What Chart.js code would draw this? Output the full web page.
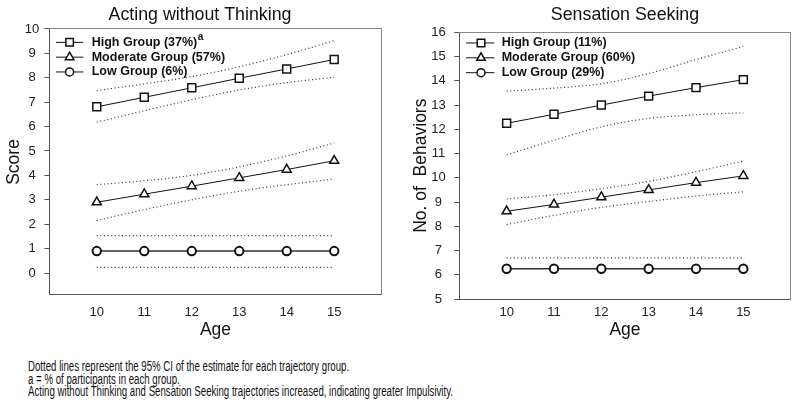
<!DOCTYPE html>
<html>
<head>
<meta charset="utf-8">
<script src="https://cdn.jsdelivr.net/npm/chart.js@4.4.1/dist/chart.umd.min.js"></script>
<style>
html,body{margin:0;padding:0;background:#fff;width:800px;height:417px;overflow:hidden;}
#wrapL{position:absolute;left:0;top:0;width:400px;height:345px;}
#wrapR{position:absolute;left:400px;top:0;width:400px;height:349px;}
#note{position:absolute;left:28px;top:360px;font-family:"Liberation Sans Narrow","Arial Narrow","Liberation Sans",Arial,sans-serif;font-size:14px;line-height:12.6px;color:#111;}
#note div{white-space:nowrap;transform-origin:0 0;width:max-content;}
</style>
</head>
<body>
<div id="wrapL"><canvas id="cL" width="400" height="345"></canvas></div>
<div id="wrapR"><canvas id="cR" width="400" height="349"></canvas></div>
<div id="note">
  <div>Dotted lines represent the 95% CI of the estimate for each trajectory group.</div>
  <div>a = % of participants in each group.</div>
  <div>Acting without Thinking and Sensation Seeking trajectories increased, indicating greater Impulsivity.</div>
</div>
<script>
// ---------- data ----------
const ages = [10, 11, 12, 13, 14, 15];
const xTickValues = [10, 11, 12, 13, 14, 15];
const awtTickValues = [0, 1, 2, 3, 4, 5, 6, 7, 8, 9, 10];
const ssTickValues = [5, 6, 7, 8, 9, 10, 11, 12, 13, 14, 15, 16];

const awtTitle = 'Acting without Thinking';
const ssTitle = 'Sensation Seeking';
const awtYTitle = 'Score';
const ssYTitle = 'No. of  Behaviors';
const xTitle = 'Age';

const awtLabels = ['High Group (37%)', 'Moderate Group (57%)', 'Low Group (6%)'];
const ssLabels = ['High Group (11%)', 'Moderate Group (60%)', 'Low Group (29%)'];

const awtHigh      = [6.81, 7.2, 7.59, 7.98, 8.36, 8.75];
const awtHighUpper = [7.47, 7.75, 8.05, 8.45, 8.95, 9.52];
const awtHighLower = [6.18, 6.65, 7.1, 7.5, 7.8, 8.02];
const awtMod       = [2.9, 3.23, 3.56, 3.9, 4.24, 4.6];
const awtModUpper  = [3.62, 3.78, 4.0, 4.35, 4.8, 5.33];
const awtModLower  = [2.15, 2.6, 3.0, 3.35, 3.62, 3.85];
const awtLow       = [0.9, 0.9, 0.9, 0.9, 0.9, 0.9];
const awtLowUpper  = [1.53, 1.53, 1.53, 1.53, 1.53, 1.53];
const awtLowLower  = [0.23, 0.23, 0.23, 0.23, 0.23, 0.23];

const ssHigh       = [12.25, 12.62, 13.0, 13.37, 13.72, 14.05];
const ssHighUpper  = [13.57, 13.7, 13.88, 14.3, 14.88, 15.42];
const ssHighLower  = [10.95, 11.55, 12.1, 12.45, 12.6, 12.68];
const ssMod        = [8.62, 8.9, 9.2, 9.5, 9.8, 10.08];
const ssModUpper   = [9.13, 9.3, 9.55, 9.85, 10.25, 10.69];
const ssModLower   = [8.07, 8.45, 8.78, 9.02, 9.25, 9.42];
const ssLow        = [6.25, 6.25, 6.25, 6.25, 6.25, 6.25];
const ssLowUpper   = [6.7, 6.7, 6.7, 6.7, 6.7, 6.7];

// ---------- helpers ----------
const FONT = '"Liberation Sans", Arial, Helvetica, sans-serif';
Chart.defaults.font.family = FONT;
Chart.defaults.color = '#222';

function pts(ys) { return ages.map((a, i) => ({ x: a, y: ys[i] })); }

function mainDs(label, ys, style, r, extra) {
  return Object.assign({
    label: label, data: pts(ys), isMain: true, order: 1,
    borderColor: '#111', borderWidth: 1, tension: 0,
    pointStyle: style, pointRadius: r, pointHoverRadius: r,
    pointBorderWidth: 1.5, pointBorderColor: '#111', pointBackgroundColor: '#fff'
  }, extra || {});
}
function ciDs(ys) {
  return {
    label: '', data: pts(ys), isMain: false, order: 2,
    borderColor: '#333', borderWidth: 1.2, borderDash: [1, 2.6],
    pointRadius: 0, pointHoverRadius: 0, cubicInterpolationMode: 'monotone'
  };
}

const insideLegend = {
  id: 'insideLegend',
  afterDatasetsDraw(chart, args, o) {
    const ctx = chart.ctx, ca = chart.chartArea;
    const items = chart.data.datasets.filter(d => d.isMain);
    ctx.save();
    items.forEach((d, i) => {
      const y = ca.top + o.top + i * o.gap;
      ctx.setLineDash([]);
      ctx.strokeStyle = '#111';
      ctx.lineWidth = 1;
      ctx.beginPath();
      ctx.moveTo(ca.left + o.lineX0, y);
      ctx.lineTo(ca.left + o.lineX1, y);
      ctx.stroke();
      ctx.fillStyle = '#fff';
      ctx.lineWidth = 1.5;
      Chart.helpers.drawPoint(ctx, { pointStyle: d.pointStyle, radius: d.pointRadius * 0.95, borderWidth: 1.5, rotation: 0 }, ca.left + o.markX, y);
      ctx.fillStyle = '#111';
      ctx.font = 'bold 12.5px ' + FONT;
      ctx.textBaseline = 'middle';
      ctx.textAlign = 'left';
      ctx.fillText(d.label, ca.left + o.textX, y);
      if (i === 0 && o.sup) {
        const w = ctx.measureText(d.label).width;
        ctx.font = 'bold 10px ' + FONT;
        ctx.fillText(o.sup, ca.left + o.textX + w + 0.5, y - 5.5);
      }
    });
    ctx.restore();
  }
};

function fixTicks(values) {
  return function (scale) { scale.ticks = values.map(v => ({ value: v })); };
}

function makeChart(canvasId, cfg) {
  return new Chart(document.getElementById(canvasId), {
    type: 'line',
    data: { datasets: cfg.datasets },
    plugins: [insideLegend],
    options: {
      responsive: false,
      animation: false,
      events: [],
      layout: { padding: 0 },
      plugins: {
        legend: { display: false },
        tooltip: { enabled: false },
        title: {
          display: true, text: cfg.title, fullSize: cfg.titleFull,
          color: '#111', font: { size: 17.8, weight: 'normal' },
          padding: cfg.titlePad
        },
        insideLegend: cfg.legend
      },
      scales: {
        x: {
          type: 'linear', min: 9, max: 16,
          afterBuildTicks: fixTicks(xTickValues),
          afterFit: s => { s.height = cfg.xHeight; },
          grid: { display: false, drawTicks: false },
          border: { display: true, color: '#555', width: 1 },
          ticks: { padding: cfg.xTickPad, color: '#222', font: { size: 13 } },
          title: { display: true, text: xTitle, color: '#111', font: { size: 17.5 }, padding: { top: 0, bottom: cfg.xTitlePadBottom } }
        },
        y: {
          type: 'linear', min: cfg.yMin, max: cfg.yMax,
          afterBuildTicks: fixTicks(cfg.yTicks),
          afterFit: s => { s.width = cfg.yWidth; },
          grid: { display: true, drawOnChartArea: false, drawTicks: true, tickLength: 5, color: '#555' },
          border: { display: true, color: '#555', width: 1 },
          ticks: { padding: cfg.yTickPad, crossAlign: 'center', color: '#222', font: { size: 13 } },
          title: { display: true, text: cfg.yTitle, color: '#111', font: { size: 17.5 }, padding: { top: cfg.yTitlePadTop, bottom: 0 } }
        },
        x2: {
          type: 'linear', position: 'top', display: true,
          grid: { display: false, drawTicks: false }, ticks: { display: false },
          border: { display: true, color: '#888', width: 1 },
          afterFit: s => { s.height = 0; }
        },
        y2: {
          type: 'linear', position: 'right', display: true,
          grid: { display: false, drawTicks: false }, ticks: { display: false },
          border: { display: true, color: '#888', width: 1 },
          afterFit: s => { s.width = cfg.rightWidth; }
        }
      }
    }
  });
}

makeChart('cL', {
  title: awtTitle, titleFull: true, titlePad: { top: 4.5, bottom: 3.1 },
  yMin: -0.9, yMax: 10, yTicks: awtTickValues, yTitle: awtYTitle,
  yWidth: 49.3, yTickPad: 5, yTitlePadTop: 3.6, rightWidth: 18.3,
  xHeight: 50, xTickPad: 10, xTitlePadBottom: 4.6,
  legend: { top: 13.4, gap: 14.8, lineX0: 6.7, lineX1: 34, markX: 20.3, textX: 42.4, sup: 'a' },
  datasets: [
    mainDs(awtLabels[0], awtHigh, 'rect', 5.6),
    mainDs(awtLabels[1], awtMod, 'triangle', 5.2),
    mainDs(awtLabels[2], awtLow, 'circle', 4.2, { borderColor: '#666', borderWidth: 2, pointBorderWidth: 2 }),
    ciDs(awtHighUpper), ciDs(awtHighLower),
    ciDs(awtModUpper), ciDs(awtModLower),
    ciDs(awtLowUpper), ciDs(awtLowLower)
  ]
});

makeChart('cR', {
  title: ssTitle, titleFull: false, titlePad: { top: 4.5, bottom: 6.5 },
  yMin: 5, yMax: 16, yTicks: ssTickValues, yTitle: ssYTitle,
  yWidth: 59.3, yTickPad: 8.6, yTitlePadTop: 11.1, rightWidth: 9.3,
  xHeight: 50, xTickPad: 6, xTitlePadBottom: 8.6,
  legend: { top: 10.6, gap: 14.85, lineX0: 6.7, lineX1: 35, markX: 21.7, textX: 42.4, sup: '' },
  datasets: [
    mainDs(ssLabels[0], ssHigh, 'rect', 5.6),
    mainDs(ssLabels[1], ssMod, 'triangle', 5.2),
    mainDs(ssLabels[2], ssLow, 'circle', 4.2, { borderColor: '#333', borderWidth: 1.5, pointBorderWidth: 2 }),
    ciDs(ssHighUpper), ciDs(ssHighLower),
    ciDs(ssModUpper), ciDs(ssModLower),
    ciDs(ssLowUpper)
  ]
});

// fit the condensed footnote to the reference width
(function () {
  const lines = Array.from(document.querySelectorAll('#note div'));
  const w = lines[2].getBoundingClientRect().width;
  const k = 425 / w;
  lines.forEach(el => { el.style.transform = 'scaleX(' + k + ')'; });
})();
</script>
</body>
</html>
